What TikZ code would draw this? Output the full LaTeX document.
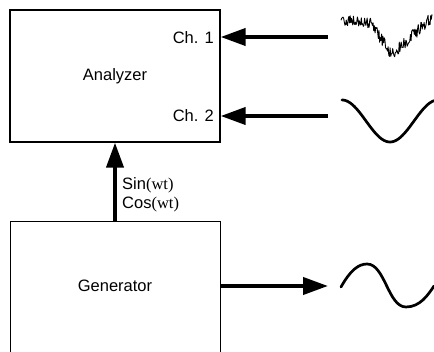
\documentclass[tikz,border=0pt]{standalone}
\usepackage{fontspec}
\setmainfont{Liberation Sans}
\newfontfamily\serifwt{Liberation Serif}
\usetikzlibrary{arrows.meta}
\begin{document}
\begin{tikzpicture}[x=1pt,y=-1pt,
  box/.style={draw, line width=1.3pt, inner sep=0pt},
  lbl/.style={font=\fontsize{16.5}{19}\selectfont, inner sep=0pt},
  sig/.style={line width=4pt, -{Triangle[length=25pt,width=17pt]}},
  wave/.style={line width=2.7pt, line cap=round}]
\useasboundingbox (0,0) rectangle (434,352);
\clip (0,0) rectangle (434,352);
% boxes
\node[box, minimum width=210pt, minimum height=132pt] (ana) at (115,76) {};
\node[lbl, anchor=base] (analbl) at (115,81) {Analyzer};
\node[box, minimum width=210pt, minimum height=140pt, anchor=north west] (gen) at (10,221) {};
\node[lbl, anchor=base] (genlbl) at (115,292) {Generator};
% channel labels
\node[lbl, anchor=base east] (ch1) at (214,44) {Ch. 1};
\node[lbl, anchor=base east] (ch2) at (214,122) {Ch. 2};
\node[lbl, anchor=north west, align=left] (sc) at (122,177) {Sin{\serifwt(wt)}\\Cos{\serifwt(wt)}};
% connectors
\coordinate (c1) at (328,37);
\coordinate (c2) at (328,116);
\coordinate (v) at (115,221);
\coordinate (go) at (328,286);
\draw[sig] (c1) -- (ana.east |- c1);
\draw[sig] (c2) -- (ana.east |- c2);
\draw[sig] (v) -- (v |- ana.south);
\draw[sig] (gen.east |- go) -- (go);
% signals
\pgfmathsetseed{11}
\draw[line width=0.9pt, line join=round] plot[domain=341:432, samples=140]
  (\x, {(\x<370 ? 20+0.1*(\x-341) : (\x<392 ? 23+32*(\x-370)/22 : 55-38*(\x-392)/40)) + 6*rand});
\draw[wave] plot[domain=342:434, samples=60, smooth] (\x, {121 - 21*cos(3.75*(\x-342))});
\draw[wave] (341,287) .. controls (350,271) and (358,264) .. (367,264)
  .. controls (385,264) and (388,307) .. (406,307)
  .. controls (420,307) and (428,295) .. (434,286);
\end{tikzpicture}
\end{document}
